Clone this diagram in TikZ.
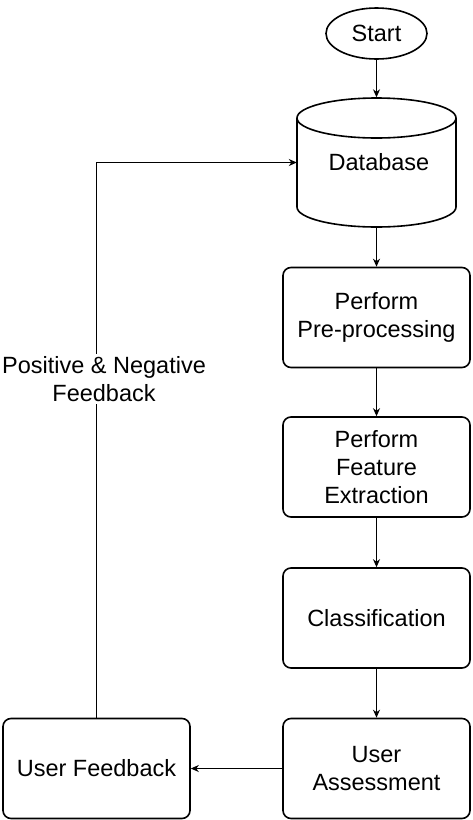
\documentclass[tikz,border=0pt]{standalone}
\usepackage{fontspec}
\setmainfont{Liberation Sans}
\usetikzlibrary{shapes.geometric,arrows.meta}
\begin{document}
\begin{tikzpicture}[x=1pt,y=1pt,
  every node/.style={font=\fontsize{23.5}{28}\selectfont},
  boxline/.style={line width=1.6pt},
  stepbox/.style={boxline,draw,rectangle,rounded corners=8pt,minimum width=187pt,minimum height=100pt,align=center,inner sep=0pt},
  conn/.style={line width=1pt,-{Stealth[length=8pt,width=7pt,inset=2.5pt]}}]
\useasboundingbox (0,0) rectangle (472,-820);
\node[boxline,draw,ellipse,minimum width=101pt,minimum height=51pt,inner sep=0pt] (start) at (376.5,-33.5) {Start};
% database cylinder
\draw[boxline] (297,-118) -- (297,-207) arc[start angle=180,end angle=360,x radius=79.5,y radius=20]
  -- (456,-118) arc[start angle=0,end angle=180,x radius=79.5,y radius=20] -- cycle;
\draw[boxline] (297,-118) arc[start angle=180,end angle=360,x radius=79.5,y radius=20];
\node[rectangle,minimum width=159pt,minimum height=130pt,inner sep=0pt] (db) at (376.5,-162.5) {};
\node at (379,-162) {Database};
\node[stepbox] (pre) at (376.5,-317.5) {Perform\\Pre-processing};
\node[stepbox] (feat) at (376.5,-467) {Perform\\Feature\\Extraction};
\node[stepbox] (cls) at (376.5,-618) {Classification};
\node[stepbox] (ua) at (376.5,-768.5) {User\\Assessment};
\node[stepbox] (uf) at (96.5,-768.5) {User Feedback};
\draw[conn] (start) -- (db.north);
\draw[conn] (db.south) -- (pre);
\draw[conn] (pre) -- (feat);
\draw[conn] (feat) -- (cls);
\draw[conn] (cls) -- (ua);
\draw[conn] (ua) -- (uf);
\draw[conn] (uf.north) |- (db.west);
\node[fill=white,align=center,inner sep=2pt] (lbl) at (104,-379) {Positive \& Negative\\Feedback};
\end{tikzpicture}
\end{document}
